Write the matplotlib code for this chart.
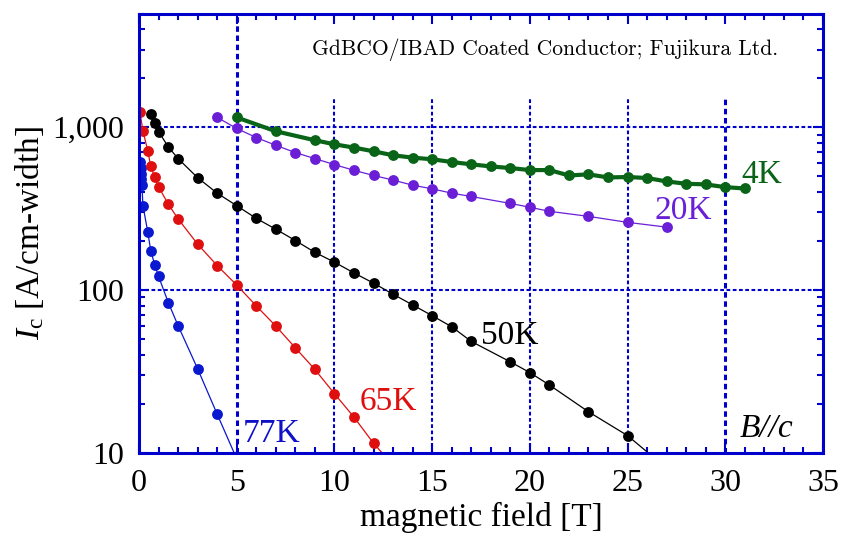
import matplotlib
matplotlib.use('Agg')
import matplotlib.pyplot as plt
from matplotlib.ticker import MultipleLocator, LogLocator, FuncFormatter, NullFormatter

plt.rcParams['font.family'] = ['Liberation Serif', 'DejaVu Serif']
plt.rcParams['mathtext.fontset'] = 'custom'
plt.rcParams['mathtext.rm'] = 'Liberation Serif'
plt.rcParams['mathtext.it'] = 'Liberation Serif:italic'

# Ic vs B, B//c
b_77 = [0.05, 0.08, 0.1, 0.12, 0.15, 0.2, 0.45, 0.6, 0.8, 1.0, 1.5, 2, 3, 4, 5]
ic_77 = [611, 564, 518, 478, 440, 330, 226, 174, 143, 121, 83.5, 60.2, 32.7, 17.2, 9.15]

b_65 = [0.05, 0.2, 0.45, 0.6, 0.8, 1.0, 1.5, 2, 3, 4, 5, 6, 7, 8, 9, 10, 11, 12, 13]
ic_65 = [1233, 949, 714, 577, 493, 430, 336, 273, 191, 141, 107, 79.7, 59.9, 44.0,
         32.4, 23.0, 16.5, 11.4, 8.35]

b_50 = [0.6, 0.8, 1.0, 1.5, 2, 3, 4, 5, 6, 7, 8, 9, 10, 11, 12, 13, 14, 15, 16, 17,
        19, 20, 21, 23, 25, 27]
ic_50 = [1203, 1054, 940, 756, 641, 489, 393, 329, 275, 236, 201, 170, 148, 127, 110,
         94, 80.8, 69.4, 59.3, 48.2, 36.1, 31.0, 26.0, 17.8, 12.7, 8.0]

b_20 = [4, 5, 6, 7, 8, 9, 10, 11, 12, 13, 14, 15, 16, 17, 19, 20, 21, 23, 25, 27]
ic_20 = [1148, 982, 864, 774, 698, 641, 589, 543, 505, 473, 440, 418, 393, 375, 340,
         322, 304, 283, 260, 243]

b_4 = [5, 7, 9, 10, 11, 12, 13, 14, 15, 16, 17, 18, 19, 20, 21, 22, 23, 24, 25, 26,
       27, 28, 29, 30, 31]
ic_4 = [1148, 944, 831, 785, 749, 711, 672, 650, 635, 611, 591, 574, 561, 545, 545,
        505, 513, 491, 494, 487, 464, 449, 445, 428, 420]

BLUE = '#0000cc'

fig = plt.figure(figsize=(8.41, 5.38), dpi=100)
ax = fig.add_axes([0.1653, 0.1589, 0.8133, 0.816])

# dotted grid; the lines 10..30 stop under the caption
for x, lw, top in [(5, 2.2, 1.0), (10, 1.5, 0.81), (15, 1.5, 0.81), (20, 1.5, 0.81),
                   (25, 1.5, 0.81), (30, 2.2, 0.81)]:
    ax.axvline(x, ymax=top, color=BLUE, lw=lw, ls=(0, (1.8, 1.2)), zorder=0.8)
for y in [100, 1000]:
    ax.axhline(y, color=BLUE, lw=1.5, ls=(0, (1.8, 1.2)), zorder=0.8)

ms = 7.8
ax.plot(b_77, ic_77, '-o', color='#0a18d0', lw=0.9, ms=ms, mew=0)
ax.plot(b_65, ic_65, '-o', color='#e00f0f', lw=0.9, ms=ms, mew=0)
ax.plot(b_50, ic_50, '-o', color='black', lw=0.9, ms=ms, mew=0)
ax.plot(b_20, ic_20, '-o', color='#6a1fd6', lw=0.9, ms=ms, mew=0)
ax.plot(b_4, ic_4, '-o', color='#0a6418', lw=3, ms=ms, mew=0)

ax.set_yscale('log')
ax.set_xlim(0, 35)
ax.set_ylim(10, 5000)

ax.xaxis.set_major_locator(MultipleLocator(5))
ax.xaxis.set_minor_locator(MultipleLocator(1))
ax.yaxis.set_major_locator(LogLocator(base=10, numticks=10))
ax.yaxis.set_minor_locator(LogLocator(base=10, subs=range(2, 10), numticks=20))
ax.yaxis.set_major_formatter(FuncFormatter(lambda v, p: f'{v:,.0f}'))
ax.yaxis.set_minor_formatter(NullFormatter())

ax.tick_params(which='both', direction='in', top=True, right=True, color=BLUE,
               width=1.5, labelsize=23)
ax.tick_params(which='major', length=7)
ax.tick_params(which='minor', length=4)
ax.tick_params(axis='x', pad=12)
ax.tick_params(axis='y', pad=11)
for s in ax.spines.values():
    s.set_color(BLUE)
    s.set_linewidth(2.2)

ax.set_xlabel('magnetic field [T]', fontsize=24, labelpad=3)
ax.set_ylabel(r'$I_{\mathrm{c}}$ [A/cm-width]', fontsize=24, labelpad=4)

# curve labels
ax.text(5.3, 11.6, '77K', color='#1010c8', fontsize=24)
ax.text(11.3, 18.2, '65K', color='#e00f0f', fontsize=24)
ax.text(17.5, 46.2, '50K', color='black', fontsize=24)
ax.text(26.4, 273, '20K', color='#6a1fd6', fontsize=24)
ax.text(30.8, 456, '4K', color='#0a6418', fontsize=24)
ax.text(30.75, 12.4, 'B//c', fontsize=24, style='italic')

ax.text(0.594, 0.917, 'GdBCO/IBAD Coated Conductor; Fujikura Ltd.',
        transform=ax.transAxes, ha='center', va='center', fontsize=15.5,
        family=['cmr10', 'DejaVu Serif'])

fig.savefig('out.png', dpi=100)
